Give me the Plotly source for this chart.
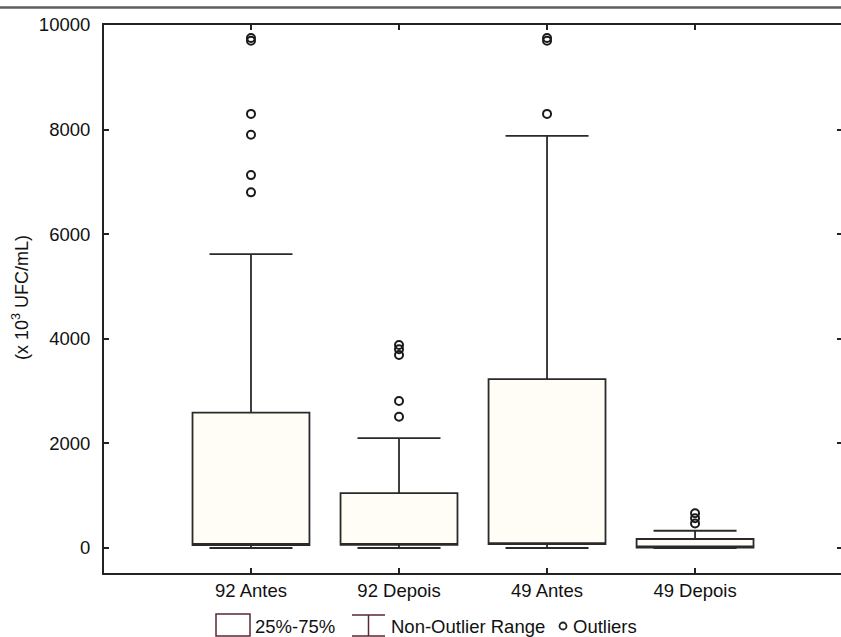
import plotly.graph_objects as go

categories = ["92 Antes", "92 Depois", "49 Antes", "49 Depois"]
q1 = [57, 60, 76, 10]
q3 = [2590, 1050, 3230, 172]
lower_whisker = [0, 0, 0, 0]
upper_whisker = [5620, 2100, 7880, 330]

outlier_cat = [0, 0, 0, 0, 0, 0,
               1, 1, 1, 1, 1,
               2, 2, 2,
               3, 3, 3]
outlier_val = [6800, 7130, 7900, 8300, 9700, 9750,
               2510, 2810, 3690, 3800, 3880,
               8300, 9700, 9750,
               470, 570, 665]

y_ticks = [0, 2000, 4000, 6000, 8000, 10000]
legend_labels = ["25%-75%", "Non-Outlier Range", "Outliers"]
y_title = "(x 10<sup>3</sup> UFC/mL)"

W, H = 841, 637
L, R, T, B = 104, 0, 25, 64
pw = W - L - R
ph = H - T - B


def px(xp):
    return (xp - L) / pw


def py(yp):
    return (H - B - yp) / ph


xs = list(range(len(categories)))

fig = go.Figure()
fig.add_trace(go.Box(
    x=xs, q1=q1, median=q1, q3=q3,
    lowerfence=lower_whisker, upperfence=upper_whisker,
    width=0.79, whiskerwidth=0.71,
    fillcolor="#fffdf5",
    line=dict(color="#2a2a2a", width=1.8),
    boxpoints=False, showlegend=False, hoverinfo="skip",
))
fig.add_trace(go.Scatter(
    x=[xs[i] for i in outlier_cat], y=outlier_val, mode="markers",
    marker=dict(symbol="circle-open", size=8, color="#1a1a1a",
                line=dict(width=2, color="#1a1a1a")),
    showlegend=False, hoverinfo="skip",
))
# invisible trace on secondary axis for right-hand ticks
fig.add_trace(go.Scatter(x=[0], y=[0], yaxis="y2", mode="markers",
                         marker=dict(opacity=0), showlegend=False,
                         hoverinfo="skip"))

font = "Liberation Sans, Arial, sans-serif"
fig.update_layout(
    width=W, height=H,
    margin=dict(l=L, r=R, t=T, b=B),
    paper_bgcolor="white", plot_bgcolor="white",
    font=dict(family=font, size=18, color="#111111"),
    xaxis=dict(
        range=[-0.993, 3.986], tickvals=xs, ticktext=categories,
        showline=True, linecolor="#222222", linewidth=2, mirror="ticks",
        ticks="inside", ticklen=5, tickwidth=1.5, tickcolor="#222222",
        showgrid=False, zeroline=False, fixedrange=True,
        tickfont=dict(size=18.5, family=font),
    ),
    yaxis=dict(
        range=[-478, 10000], tickvals=y_ticks,
        ticktext=[str(v) for v in y_ticks],
        showline=True, linecolor="#222222", linewidth=2,
        ticks="inside", ticklen=5, tickwidth=1.5, tickcolor="#222222",
        showgrid=False, zeroline=False, ticklabelstandoff=8,
        tickfont=dict(size=18.5, family=font),
    ),
    yaxis2=dict(
        range=[-478, 10000], tickvals=y_ticks,
        overlaying="y", side="right", showline=False,
        ticks="inside", ticklen=4, tickwidth=1.5, tickcolor="#222222",
        showticklabels=False, showgrid=False, zeroline=False,
    ),
)

shapes = []
# top rule
shapes.append(dict(type="line", xref="paper", yref="paper",
                   x0=px(0), x1=px(W), y0=py(7.5), y1=py(7.5),
                   line=dict(color="#5f5f5f", width=2.5)))
icon_col = "#5a2834"
# legend box icon
shapes.append(dict(type="rect", xref="paper", yref="paper",
                   x0=px(216), x1=px(250), y0=py(636), y1=py(614),
                   line=dict(color=icon_col, width=1.5), fillcolor="white"))
# legend whisker icon
wx0, wx1 = px(352), px(385)
wm = (wx0 + wx1) / 2
shapes.append(dict(type="path", xref="paper", yref="paper",
                   path=f"M {wx0},{py(615)} L {wx1},{py(615)} M {wm},{py(615)} L {wm},{py(636)} M {wx0},{py(636)} L {wx1},{py(636)}",
                   line=dict(color=icon_col, width=1.5)))
# legend outlier icon
shapes.append(dict(type="circle", xref="paper", yref="paper",
                   x0=px(559.5), x1=px(566.5), y0=py(629.5), y1=py(622.5),
                   line=dict(color="#222222", width=1.8)))
fig.update_layout(shapes=shapes)

ann = []
ann.append(dict(text=legend_labels[0], xref="paper", yref="paper",
                x=px(253), y=py(626), xanchor="left", yanchor="middle",
                showarrow=False, font=dict(size=18.5, family=font)))
ann.append(dict(text=legend_labels[1], xref="paper", yref="paper",
                x=px(389), y=py(626), xanchor="left", yanchor="middle",
                showarrow=False, font=dict(size=18.5, family=font)))
ann.append(dict(text=legend_labels[2], xref="paper", yref="paper",
                x=px(571), y=py(626), xanchor="left", yanchor="middle",
                showarrow=False, font=dict(size=18.5, family=font)))
ann.append(dict(text=y_title, xref="paper", yref="paper",
                x=px(20), y=py(298), xanchor="center", yanchor="middle",
                textangle=-90, showarrow=False, font=dict(size=18, family=font)))
fig.update_layout(annotations=ann)

fig.write_html("out.html",
               config={"displayModeBar": False},
               post_script="document.body.style.margin='0';document.body.style.overflow='hidden';")
